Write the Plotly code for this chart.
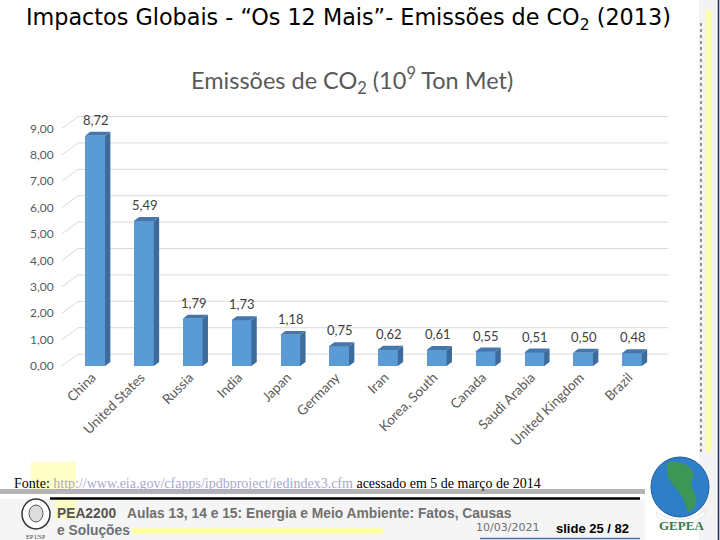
import plotly.graph_objects as go

# ---------------- data ----------------
countries = ["China", "United States", "Russia", "India", "Japan", "Germany", "Iran",
             "Korea, South", "Canada", "Saudi Arabia", "United Kingdom", "Brazil"]
emissions = [8.72, 5.49, 1.79, 1.73, 1.18, 0.75, 0.62, 0.61, 0.55, 0.51, 0.50, 0.48]
y_ticks = [0, 1, 2, 3, 4, 5, 6, 7, 8, 9]

slide_title = "Impactos Globais - \u201cOs 12 Mais\u201d- Emiss\u00f5es de CO<sub>2</sub> (2013)"
chart_title = "Emiss\u00f5es de CO<sub>2</sub> (10<sup>9</sup> Ton Met)"

W, H = 720, 540
def px(x):
    return x / W
def py(y):
    return 1 - y / H

# geometry of the pseudo-3D look (in axis units)
bar_w = 0.41
depth_x = 0.11   # side face depth, category units
depth_y = 0.15   # top face depth, value units
back_dy = 0.45   # back-wall gridline offset, value units

idx = list(range(len(countries)))

fig = go.Figure()

# front faces
fig.add_trace(go.Bar(x=idx, y=emissions, width=bar_w, marker=dict(color="#5B9BD5", line=dict(width=0)),
                     hoverinfo="skip", showlegend=False))

# side faces
sx, sy = [], []
for i, v in zip(idx, emissions):
    r = i + bar_w / 2
    sx += [r, r, r + depth_x, r + depth_x, r, None]
    sy += [0, v, v + depth_y, depth_y, 0, None]
fig.add_trace(go.Scatter(x=sx, y=sy, mode="lines", fill="toself", fillcolor="#3D6C9C",
                         line=dict(width=0, color="#3D6C9C"), hoverinfo="skip", showlegend=False))
# top faces
tx, ty = [], []
for i, v in zip(idx, emissions):
    l, r = i - bar_w / 2, i + bar_w / 2
    tx += [l, r, r + depth_x, l + depth_x, l, None]
    ty += [v, v, v + depth_y, v + depth_y, v, None]
fig.add_trace(go.Scatter(x=tx, y=ty, mode="lines", fill="toself", fillcolor="#4577AB",
                         line=dict(width=0, color="#4577AB"), hoverinfo="skip", showlegend=False))

shapes = []
# back-wall gridlines and perspective ticks
for t in y_ticks:
    shapes.append(dict(type="line", xref="paper", yref="y", x0=px(78), x1=px(668),
                       y0=t + back_dy, y1=t + back_dy, line=dict(color="#D9D9D9", width=1), layer="below"))
    shapes.append(dict(type="line", xref="paper", yref="y", x0=px(62), x1=px(78),
                       y0=t, y1=t + back_dy, line=dict(color="#D9D9D9", width=1), layer="below"))

# right decorative strip
shapes.append(dict(type="rect", xref="paper", yref="paper", x0=px(699), x1=px(720), y0=py(540), y1=py(0),
                   fillcolor="#F3F3F6", line=dict(width=0), layer="below"))
shapes.append(dict(type="rect", xref="paper", yref="paper", x0=px(706), x1=px(711), y0=py(452), y1=py(10),
                   fillcolor="#FFFFA6", line=dict(width=0), layer="below"))
shapes.append(dict(type="line", xref="paper", yref="paper", x0=px(701), x1=px(701), y0=py(452), y1=py(20),
                   line=dict(color="#333333", width=1, dash="dot")))
shapes.append(dict(type="line", xref="paper", yref="paper", x0=px(718.5), x1=px(718.5), y0=py(540), y1=py(0),
                   line=dict(color="#1F2A5A", width=1.5)))

# footer background and decorations
shapes.append(dict(type="rect", xref="paper", yref="paper", x0=px(0), x1=px(645), y0=py(540), y1=py(499),
                   fillcolor="#F5F5F5", line=dict(width=0), layer="below"))
shapes.append(dict(type="rect", xref="paper", yref="paper", x0=px(31), x1=px(76), y0=py(490), y1=py(462),
                   fillcolor="#FFFFB8", line=dict(width=0), layer="below", opacity=0.8))
shapes.append(dict(type="rect", xref="paper", yref="paper", x0=px(55), x1=px(76), y0=py(520), y1=py(499),
                   fillcolor="#FFFFB8", line=dict(width=0), layer="below", opacity=0.8))
shapes.append(dict(type="line", xref="paper", yref="paper", x0=px(0), x1=px(645), y0=py(491.5), y1=py(491.5),
                   line=dict(color="#B4B4B4", width=5)))
shapes.append(dict(type="line", xref="paper", yref="paper", x0=px(50), x1=px(640), y0=py(498.5), y1=py(498.5),
                   line=dict(color="#000000", width=2.5)))
shapes.append(dict(type="line", xref="paper", yref="paper", x0=px(132), x1=px(383), y0=py(531), y1=py(531),
                   line=dict(color="#FFFF99", width=5)))
shapes.append(dict(type="line", xref="paper", yref="paper", x0=px(480), x1=px(640), y0=py(538.5), y1=py(538.5),
                   line=dict(color="#4A6FA5", width=1.5)))
# EPUSP seal
shapes.append(dict(type="circle", xref="paper", yref="paper", x0=px(22), x1=px(50), y0=py(529), y1=py(499),
                   fillcolor="#FFFFFF", line=dict(color="#333333", width=1.5)))
shapes.append(dict(type="circle", xref="paper", yref="paper", x0=px(29), x1=px(43), y0=py(522), y1=py(505),
                   fillcolor="#DDDDDD", line=dict(color="#555555", width=1)))
# GEPEA globe
shapes.append(dict(type="circle", xref="paper", yref="paper", x0=px(651), x1=px(709), y0=py(517), y1=py(457),
                   fillcolor="#2F7FC8", line=dict(color="#1D5E9E", width=1)))
shapes.append(dict(type="path", xref="paper", yref="paper",
                   path=(f"M {px(668)},{py(462)} Q {px(690)},{py(460)} {px(694)},{py(476)} "
                         f"Q {px(688)},{py(484)} {px(696)},{py(496)} Q {px(698)},{py(508)} {px(688)},{py(512)} "
                         f"Q {px(684)},{py(498)} {px(676)},{py(488)} Q {px(664)},{py(478)} {px(668)},{py(462)} Z"),
                   fillcolor="#3E9A4A", line=dict(width=0), opacity=0.9))
shapes.append(dict(type="path", xref="paper", yref="paper",
                   path=f"M {px(656)},{py(512)} Q {px(680)},{py(528)} {px(706)},{py(510)} L {px(704)},{py(516)} Q {px(680)},{py(532)} {px(658)},{py(518)} Z",
                   fillcolor="#FFFFFF", line=dict(color="#CCCCCC", width=0.5)))

annotations = []
# value labels
for i, v in zip(idx, emissions):
    annotations.append(dict(x=i, y=v + depth_y, xref="x", yref="y", text=f"{v:.2f}".replace(".", ","),
                            showarrow=False, yanchor="bottom", yshift=2, xshift=1,
                            font=dict(family="Lato, Open Sans, sans-serif", size=13, color="#404040")))

annotations += [
    dict(x=px(24), y=py(19), xref="paper", yref="paper", text=slide_title, showarrow=False,
         xanchor="left", align="left", yanchor="middle", font=dict(family="DejaVu Sans", size=22.3, color="#000000")),
    dict(x=px(352), y=py(80), xref="paper", yref="paper", text=chart_title, showarrow=False,
         xanchor="center", yanchor="middle", font=dict(family="Lato, Open Sans, sans-serif", size=23.5, color="#595959")),
    dict(x=px(12), y=py(483), xref="paper", yref="paper",
         text="Fonte: <span style='color:#A8A8D0'><u>http://www.eia.gov/cfapps/ipdbproject/iedindex3.cfm</u></span> acessado em 5 de mar\u00e7o de 2014",
         showarrow=False, xanchor="left", align="left", yanchor="middle",
         font=dict(family="Liberation Serif", size=14, color="#000000")),
    dict(x=px(55), y=py(513), xref="paper", yref="paper",
         text="<b><span style='color:#555555'>PEA2200</span>   Aulas 13, 14 e 15: Energia e Meio Ambiente: Fatos, Causas</b>",
         showarrow=False, xanchor="left", align="left", yanchor="middle",
         font=dict(family="Liberation Sans", size=13.8, color="#707070")),
    dict(x=px(55), y=py(530), xref="paper", yref="paper", text="<b>e Solu\u00e7\u00f5es</b>",
         showarrow=False, xanchor="left", align="left", yanchor="middle",
         font=dict(family="Liberation Sans", size=13.8, color="#707070")),
    dict(x=px(541), y=py(527), xref="paper", yref="paper", text="10/03/2021",
         showarrow=False, xanchor="right", align="right", yanchor="middle",
         font=dict(family="DejaVu Sans", size=11, color="#707070")),
    dict(x=px(631), y=py(528), xref="paper", yref="paper", text="<b>slide 25 / 82</b>",
         showarrow=False, xanchor="right", align="right", yanchor="middle",
         font=dict(family="Liberation Sans Narrow, Liberation Sans", size=13, color="#000000")),
    dict(x=px(36), y=py(537), xref="paper", yref="paper", text="EP USP",
         showarrow=False, xanchor="center", yanchor="middle",
         font=dict(family="Liberation Serif", size=6, color="#444444")),
    dict(x=px(681), y=py(525), xref="paper", yref="paper", text="<b>GEPEA</b>",
         showarrow=False, xanchor="center", yanchor="middle",
         font=dict(family="Liberation Serif", size=13, color="#3E7A4A")),
]

fig.update_layout(
    width=W, height=H,
    margin=dict(l=0, r=0, t=0, b=0, autoexpand=False),
    paper_bgcolor="#FFFFFF", plot_bgcolor="rgba(0,0,0,0)",
    separators=",.",
    showlegend=False,
    bargap=0,
    xaxis=dict(domain=[px(70.6), px(656.2)], range=[-0.5, 11.5], tickmode="array",
               tickvals=idx, ticktext=countries, tickangle=-45, showgrid=False, zeroline=False,
               showline=False, ticks="", fixedrange=True, ticklabelshift=-3, automargin=False,
               tickfont=dict(family="Lato, Open Sans, sans-serif", size=13.5, color="#595959")),
    yaxis=dict(domain=[py(366), py(115.2)], range=[0, 9.5], tickmode="array", tickvals=y_ticks,
               tickformat=".2f", showgrid=False, zeroline=False, showline=False, ticks="",
               ticklabelstandoff=16, fixedrange=True, automargin=False,
               tickfont=dict(family="Lato, Open Sans, sans-serif", size=12, color="#595959")),
    shapes=shapes,
    annotations=annotations,
)

fig.write_html("out.html", config={"displayModeBar": False},
               post_script="document.body.style.margin='0px';document.body.style.overflow='hidden';")
